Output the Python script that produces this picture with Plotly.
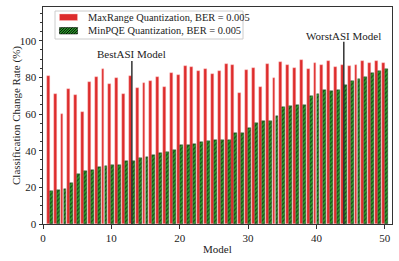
import plotly.graph_objects as go

models = list(range(1, 51))
maxrange = [80.9, 70.9, 59.8, 73.8, 70.4, 61.3, 77.3, 80.0, 84.4, 76.2,
            79.8, 70.9, 80.7, 74.0, 77.1, 77.8, 80.0, 74.6, 82.4, 81.3,
            86.0, 85.4, 83.6, 84.7, 82.0, 83.6, 87.5, 86.6, 71.4, 84.2,
            84.9, 74.7, 87.1, 79.8, 88.3, 86.7, 85.3, 89.3, 84.5, 87.6,
            86.7, 88.8, 85.7, 86.7, 86.1, 86.7, 88.8, 87.8, 89.2, 88.0]
minpqe = [18.0, 18.5, 19.1, 22.4, 27.5, 28.9, 29.3, 30.9, 31.6, 32.0,
          32.2, 34.4, 34.4, 36.0, 36.5, 37.5, 38.7, 39.5, 40.6, 42.9,
          43.3, 43.7, 44.5, 45.3, 45.6, 45.8, 45.8, 49.6, 49.8, 52.4,
          55.3, 56.0, 56.0, 58.9, 63.6, 64.4, 64.7, 65.1, 69.8, 71.1,
          72.9, 72.7, 73.1, 75.8, 77.8, 78.9, 80.2, 82.2, 83.3, 84.6]
series_names = ["MaxRange Quantization, BER = 0.005", "MinPQE Quantization, BER = 0.005"]
markers = [("BestASI Model", 13, 89.0, 92.7), ("WorstASI Model", 44, 99.4, 102.5)]
x_ticks = [0, 10, 20, 30, 40, 50]
y_ticks = [0, 20, 40, 60, 80, 100]

FONT = "Liberation Serif"
FS = 11
LEG_FS = 10.4
TXT = "#222222"
red = "#dd2c2c"
green = "#2ca02c"

W, H = 399, 261
L, R, T, B = 43, 7, 7, 37
PW, PH = W - L - R, H - T - B


def px(xp):
    return (xp - L) / PW


def py(yp):
    return (H - B - yp) / PH


fig = go.Figure()
fig.add_trace(go.Bar(
    x=[m - 0.22 for m in models], y=maxrange, width=0.42,
    name=series_names[0], showlegend=False,
    marker=dict(color=red, line=dict(color="rgba(255,190,190,0.8)", width=0.5)),
))
fig.add_trace(go.Bar(
    x=[m + 0.22 for m in models], y=minpqe, width=0.42,
    name=series_names[1], showlegend=False,
    marker=dict(color=green, line=dict(color="rgba(0,0,0,0.6)", width=0.5),
                pattern=dict(shape="/", fgcolor="black", bgcolor=green, size=3, solidity=0.4)),
))

for label, xm, ytop, ytext in markers:
    fig.add_shape(type="line", x0=xm, x1=xm, y0=0, y1=ytop, xref="x", yref="y",
                  line=dict(color="#333333", width=1.5))
    fig.add_annotation(x=xm, y=ytext, text=label, showarrow=False, xref="x", yref="y",
                       font=dict(family=FONT, size=FS, color=TXT))

# manual legend (matplotlib-like compact box)
fig.add_shape(type="rect", xref="paper", yref="paper",
              x0=px(55), x1=px(243), y0=py(39), y1=py(11),
              line=dict(color="#cccccc", width=1), fillcolor="rgba(255,255,255,0.85)")
sw_x0, sw_x1 = 59.5, 77.5
fig.add_shape(type="rect", xref="paper", yref="paper",
              x0=px(sw_x0), x1=px(sw_x1), y0=py(20.5), y1=py(14),
              line=dict(color="rgba(255,190,190,0.8)", width=0.5), fillcolor=red)
g_top, g_bot = 27.5, 34
fig.add_shape(type="rect", xref="paper", yref="paper",
              x0=px(sw_x0), x1=px(sw_x1), y0=py(g_bot), y1=py(g_top),
              line=dict(color="black", width=0.5), fillcolor=green)
w, h, step = sw_x1 - sw_x0, g_bot - g_top, 2.6
c = -h
while c < w:
    u0 = max(c, 0.0)
    u1 = min(w, c + h)
    if u1 > u0:
        fig.add_shape(type="line", xref="paper", yref="paper",
                      x0=px(sw_x0 + u0), y0=py(g_bot - (u0 - c)),
                      x1=px(sw_x0 + u1), y1=py(g_bot - (u1 - c)),
                      line=dict(color="black", width=1))
    c += step
for name, yc in zip(series_names, [17, 31]):
    fig.add_annotation(x=px(86), y=py(yc), xref="paper", yref="paper",
                       xanchor="left", yanchor="middle", showarrow=False,
                       text=name, font=dict(family=FONT, size=LEG_FS, color=TXT))

# axis titles
fig.add_annotation(x=px(8), y=0.5, xref="paper", yref="paper", textangle=-90,
                   showarrow=False, text="Classification Change Rate (%)",
                   font=dict(family=FONT, size=FS, color=TXT))
fig.add_annotation(x=0.5, y=py(249), xref="paper", yref="paper",
                   showarrow=False, text="Model", yanchor="middle",
                   font=dict(family=FONT, size=FS, color=TXT))

fig.update_layout(
    width=W, height=H,
    margin=dict(l=L, r=R, t=T, b=B, autoexpand=False),
    paper_bgcolor="white", plot_bgcolor="white",
    barmode="overlay", bargap=0,
    font=dict(family=FONT, size=FS, color=TXT),
    showlegend=False,
)
fig.update_xaxes(range=[0, 51.05], tickvals=x_ticks,
                 ticks="outside", ticklen=3.5, tickcolor="#333",
                 showline=True, linecolor="#333", linewidth=1, mirror=True,
                 showgrid=False, zeroline=False, automargin=False,
                 tickfont=dict(family=FONT, size=FS, color=TXT))
fig.update_yaxes(range=[0, 118.4], tickvals=y_ticks,
                 ticks="outside", ticklen=3.5, tickcolor="#333",
                 minor=dict(dtick=5, ticks="outside", ticklen=2, tickcolor="#333"),
                 showline=True, linecolor="#333", linewidth=1, mirror=True,
                 showgrid=False, zeroline=False, automargin=False,
                 tickfont=dict(family=FONT, size=FS, color=TXT))

fig.write_html("out.html", config={"displayModeBar": False},
               post_script="document.body.style.margin='0px';document.body.style.overflow='hidden';")
